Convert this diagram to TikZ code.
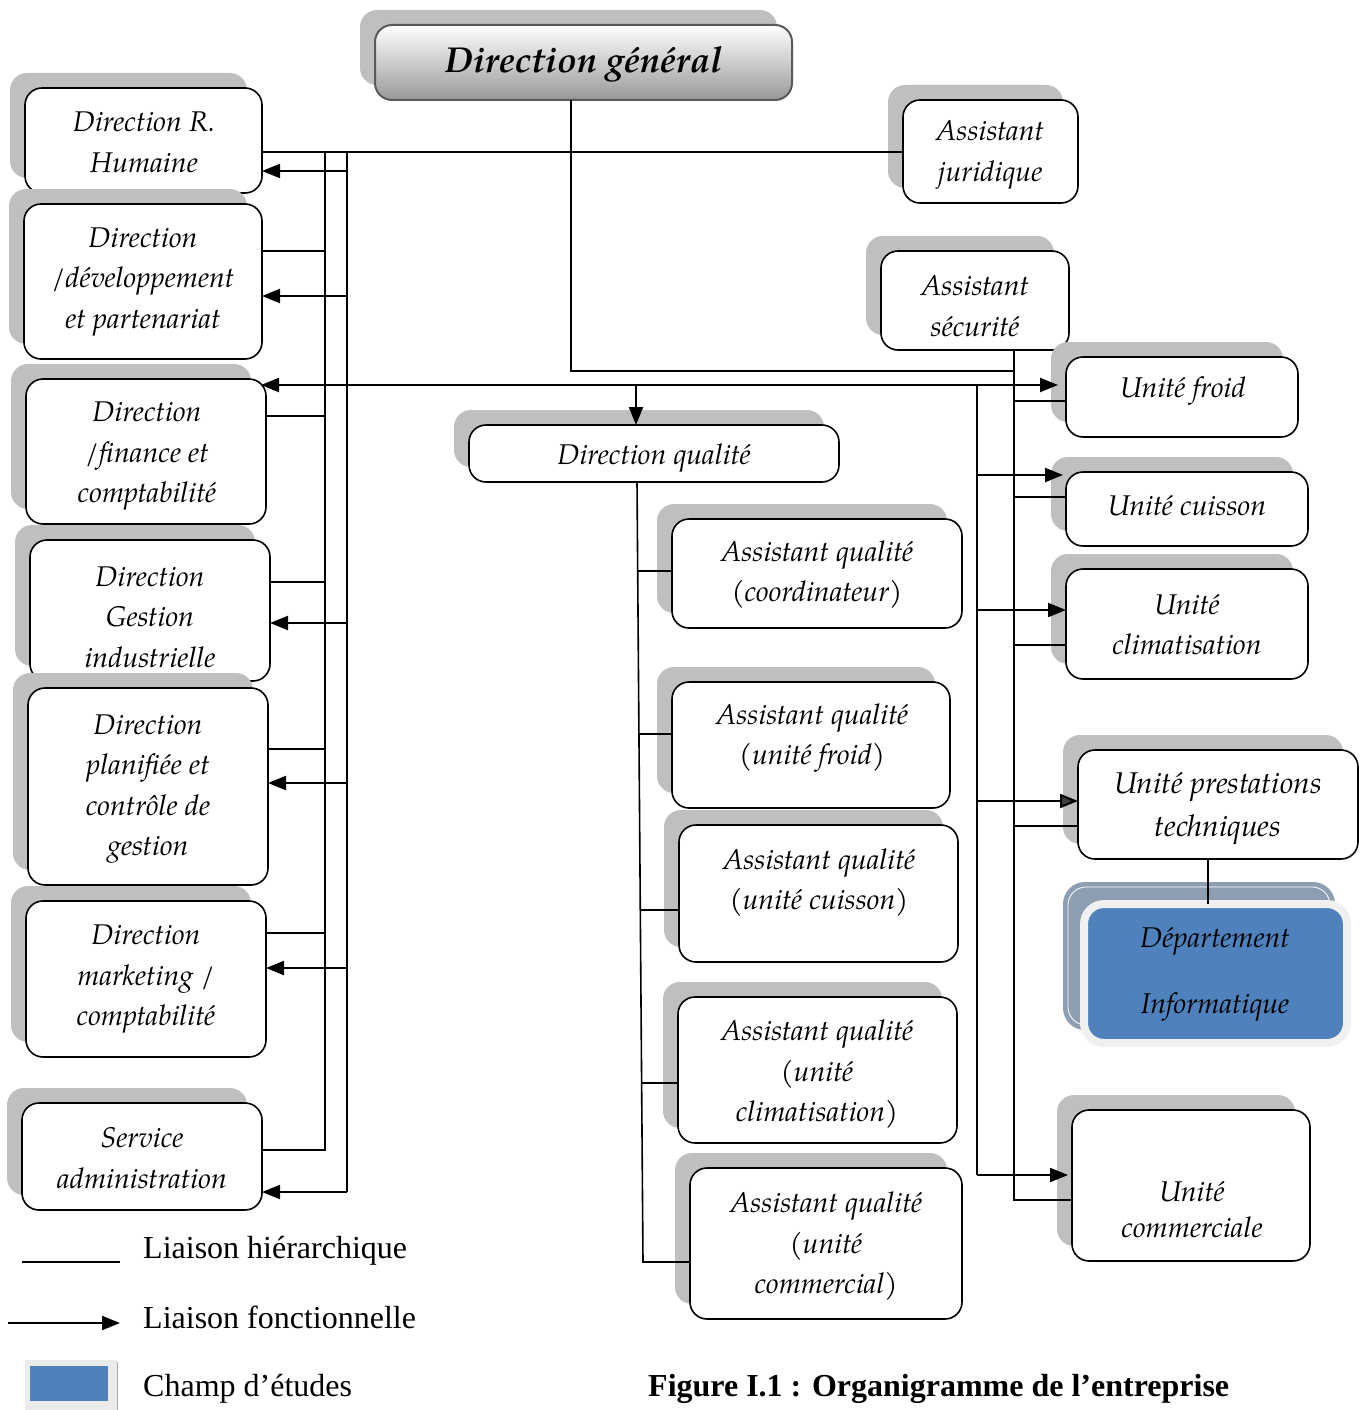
\documentclass[tikz,border=0pt]{standalone}
\usepackage{fontspec}
\setmainfont{Liberation Serif}
\newfontfamily\pal{TeX Gyre Pagella}
\usetikzlibrary{arrows.meta,shadows,calc}
\definecolor{shd}{HTML}{BFBFBF}
\definecolor{dinfo}{HTML}{4F81BD}
\definecolor{dshd}{HTML}{8D9EB3}
\tikzset{
  box/.style={draw=black, line width=1.6pt, rounded corners=17pt, fill=white,
    inner sep=0pt, outer sep=0pt,
    drop shadow={shadow xshift=-15pt, shadow yshift=15pt, fill=shd, opacity=1, draw=none}},
  txt/.style={align=center, inner sep=0pt, yshift=-3pt, font=\pal\itshape\fontsize{28.5}{40.5}\selectfont},
  hier/.style={line width=1.6pt},
  func/.style={line width=2.2pt, -{Triangle[length=18pt,width=14pt]}},
  funcb/.style={line width=2.2pt, {Triangle[length=18pt,width=14pt]}-{Triangle[length=18pt,width=14pt]}},
}
\newcommand\ubox[6][]{\node[box,#1,minimum width={#4-#2},minimum height={#5-#3}] (#6) at ({(#2+#4)/2},{(#3+#5)/2}) {};}
\begin{document}
\begin{tikzpicture}[x=1pt,y=-1pt]
\useasboundingbox (0,0) rectangle (1364,1410);

% ---- boxes ----
\ubox[top color=white, bottom color=black!40, draw=black!65, line width=2pt]{375}{25}{792}{100}{b-dg}
\ubox{25}{88}{262}{193}{b-rh}
\ubox{24}{204}{262}{359}{b-dev}
\ubox{26}{379}{266}{524}{b-fin}
\ubox{30}{540}{270}{681}{b-gi}
\ubox{28}{688}{268}{885}{b-plan}
\ubox{26}{901}{266}{1057}{b-mkt}
\ubox{22}{1103}{262}{1210}{b-sa}
\ubox{903}{100}{1078}{203}{b-aj}
\ubox{881}{251}{1069}{350}{b-as}
\ubox{1066}{357}{1298}{437}{b-uf}
\ubox{1066}{472}{1308}{546}{b-ucu}
\ubox{1066}{569}{1308}{679}{b-ucl}
\ubox{1078}{750}{1358}{859}{b-upt}
\ubox{1072}{1110}{1310}{1261}{b-ucm}
\ubox{469}{425}{839}{482}{b-dq}
\ubox{672}{519}{962}{628}{b-aq1}
\ubox{672}{682}{950}{808}{b-aq2}
\ubox{679}{825}{958}{962}{b-aq3}
\ubox{678}{997}{957}{1143}{b-aq4}
\ubox{690}{1168}{962}{1319}{b-aq5}

% Departement informatique
\fill[dshd, rounded corners=22pt] (1063,882) rectangle (1335,1030);
\draw[white, line width=0.8pt, rounded corners=18pt] (1068,887) rectangle (1330,1025);
\node[draw=black!6, line width=8pt, fill=dinfo, rounded corners=20pt, inner sep=0pt,
  outer sep=0pt, minimum width=263, minimum height=139] (b-di) at (1215.5,973.5) {};

% ---- texts ----
\node[txt, yshift=-1pt, font=\pal\bfseries\itshape\fontsize{36}{40}\selectfont] (t-dg) at (584,60) {Direction général};
\node[txt] (t-rh) at (144,139.5) {Direction R.\\Humaine};
\node[txt] (t-dev) at (143,279) {Direction\\/développement\\et partenariat};
\node[txt] (t-fin) at (147,453.5) {Direction\\/finance et\\comptabilité};
\node[txt] (t-gi) at (150,614) {Direction\\Gestion\\industrielle};
\node[txt] (t-plan) at (148,786) {Direction\\planifiée et\\contrôle de\\gestion};
\node[txt] (t-mkt) at (146,976.5) {Direction\\marketing /\\comptabilité};
\node[txt] (t-sa) at (142,1155) {Service\\administration};
\node[txt] (t-aj) at (990,152) {Assistant\\juridique};
\node[txt] (t-as) at (975,303) {Assistant\\sécurité};
\node[txt] (t-uf) at (1183,388) {Unité froid};
\node[txt] (t-ucu) at (1187,503) {Unité cuisson};
\node[txt] (t-ucl) at (1187,621.5) {Unité\\climatisation};
\node[txt, font=\pal\itshape\fontsize{30}{43}\selectfont] (t-upt) at (1218,805.5) {Unité prestations\\techniques};
\node[txt, font=\pal\itshape\fontsize{28.5}{66}\selectfont] (t-di) at (1215,971) {Département\\Informatique};
\node[txt, font=\pal\itshape\fontsize{28.5}{36}\selectfont] (t-ucm) at (1192,1207) {Unité\\commerciale};
\node[txt] (t-dq) at (654,455) {Direction qualité};
\node[txt] (t-aq1) at (817,571.5) {Assistant qualité\\(coordinateur)};
\node[txt] (t-aq2) at (812,735) {Assistant qualité\\(unité froid)};
\node[txt] (t-aq3) at (819,879.5) {Assistant qualité\\(unité cuisson)};
\node[txt] (t-aq4) at (817,1071.5) {Assistant qualité\\(unité\\climatisation)};
\node[txt] (t-aq5) at (826,1243.5) {Assistant qualité\\(unité\\commercial)};

% ---- hierarchical links ----
\draw[hier] (b-rh.east |- 0,152) -- (b-aj.west |- 0,152);
\draw[hier] (b-dg.south -| 571,0) -- (571,371) -- (1014,371);
\draw[hier] (b-as.south -| 1014,0) -- (1014,1200) -- (b-ucm.west |- 0,1200);
\draw[hier] (1014,401) -- (b-uf.west |- 0,401);
\draw[hier] (1014,497) -- (b-ucu.west |- 0,497);
\draw[hier] (1014,645) -- (b-ucl.west |- 0,645);
\draw[hier] (1014,826) -- (b-upt.west |- 0,826);
\draw[hier] (325,152) -- (325,1150) -- (b-sa.east |- 0,1150);
\draw[hier] (b-dev.east |- 0,251) -- (325,251);
\draw[hier] (b-fin.east |- 0,416) -- (325,416);
\draw[hier] (b-gi.east |- 0,582) -- (325,582);
\draw[hier] (b-plan.east |- 0,749) -- (325,749);
\draw[hier] (b-mkt.east |- 0,933) -- (325,933);
\draw[hier] (b-dq.south -| 637,0) -- (643,1262) -- (b-aq5.west |- 0,1262);
\draw[hier] (638,571) -- (b-aq1.west |- 0,571);
\draw[hier] (639,734) -- (b-aq2.west |- 0,734);
\draw[hier] (640.3,910) -- (b-aq3.west |- 0,910);
\draw[hier] (641.6,1083) -- (b-aq4.west |- 0,1083);
\draw[hier] (b-upt.south -| 1208,0) -- (b-di.north -| 1208,0);

% ---- functional links ----
\draw[hier] (347,152) -- (347,1192);
\draw[func] (347,1192) -- (b-sa.east |- 0,1192);
\draw[func] (347,171) -- (b-rh.east |- 0,171);
\draw[func] (347,296) -- (b-dev.east |- 0,296);
\draw[func] (347,623) -- (b-gi.east |- 0,623);
\draw[func] (347,783) -- (b-plan.east |- 0,783);
\draw[func] (347,968) -- (b-mkt.east |- 0,968);
\draw[funcb] ($(b-fin.east |- 0,385)+(-5,0)$) -- ($(b-uf.west |- 0,385)+(-8,0)$);
\draw[func] (636,385) -- (b-dq.north -| 636,0);
\draw[hier] (977,385) -- (977,1175);
\draw[func] (977,475) -- ($(b-ucu.west |- 0,475)+(-3,0)$);
\draw[func] (977,610) -- (b-ucl.west |- 0,610);
\draw[func, -{Triangle[length=18pt,width=14pt,fill=black!75]}] (977,801) -- (b-upt.west |- 0,801);
\draw[func] (977,1175) -- ($(b-ucm.west |- 0,1175)+(-4,0)$);

% ---- legend ----
\coordinate (lh1) at (22,1262); \coordinate (lh2) at (120,1262);
\draw[hier] (lh1) -- (lh2);
\node[anchor=base west, inner sep=0pt, font=\fontsize{32}{36}\selectfont] (lt1) at (143,1258) {Liaison hiérarchique};
\coordinate (lf1) at (8,1323); \coordinate (lf2) at (120,1323);
\draw[func] (lf1) -- (lf2);
\node[anchor=base west, inner sep=0pt, font=\fontsize{32}{36}\selectfont] (lt2) at (143,1328) {Liaison fonctionnelle};
\fill[black!8] (25,1360) rectangle (117,1410);
\draw[black!35, line width=1pt] (117,1362) -- (117,1410) -- (27,1410);
\node[fill=dinfo, inner sep=0pt, minimum width=78, minimum height=35] (lgbox) at (69,1383) {};
\node[anchor=base west, inner sep=0pt, font=\fontsize{32}{36}\selectfont] (lt3) at (143,1396) {Champ d’études};
\node[anchor=base west, inner sep=0pt, font=\bfseries\fontsize{32}{36}\selectfont] (cap) at (648,1396) {Figure I.1 : Organigramme de l’entreprise};
\end{tikzpicture}
\end{document}
